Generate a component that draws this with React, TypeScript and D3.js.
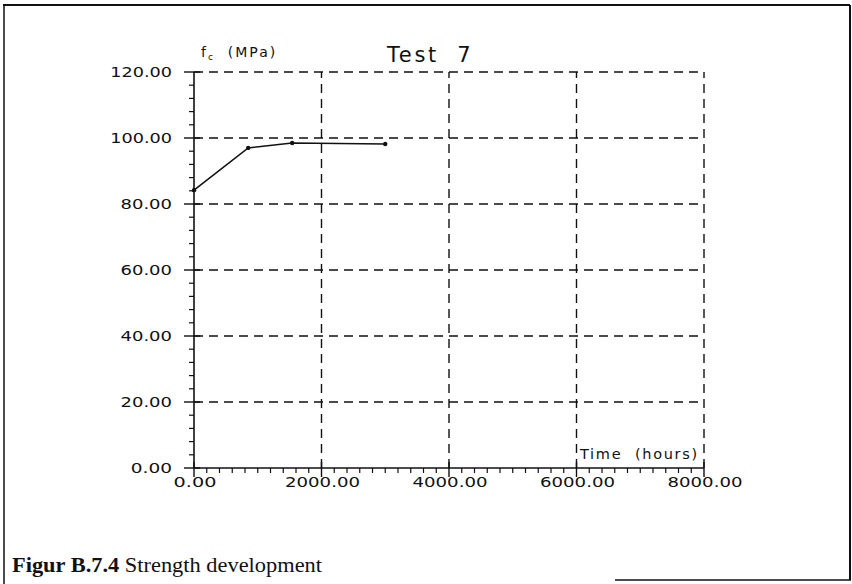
import React, { useEffect, useRef } from 'react';
import * as d3 from 'd3';

const hours = [0, 850, 1540, 3000];
const strength = [84.2, 97.0, 98.5, 98.2];
const xTicks = [0, 2000, 4000, 6000, 8000];
const yTicks = [0, 20, 40, 60, 80, 100, 120];

const App = () => {
    const svgRef = useRef<SVGSVGElement>(null);

    useEffect(() => {
        if (!svgRef.current) return;
        const width = 852;
        const height = 584;
        const svg = d3.select(svgRef.current);
        svg.selectAll("*").remove();

        const font = "'DejaVu Sans', 'Liberation Sans', sans-serif";

        const x = d3.scaleLinear().domain([0, 8000]).range([194, 704]);
        const y = d3.scaleLinear().domain([0, 120]).range([468, 72]);

        // frame around the figure
        const frame = svg.append("g").attr("stroke", "#111").attr("fill", "none");
        frame.append("line").attr("x1", 3).attr("y1", 5).attr("x2", 850).attr("y2", 5).attr("stroke-width", 2);
        frame.append("line").attr("x1", 4).attr("y1", 5).attr("x2", 4).attr("y2", 584).attr("stroke-width", 1.5);
        frame.append("line").attr("x1", 850).attr("y1", 5).attr("x2", 850).attr("y2", 580).attr("stroke-width", 2);
        frame.append("line").attr("x1", 615).attr("y1", 580).attr("x2", 851).attr("y2", 580).attr("stroke-width", 1.5);

        const g = svg.append("g");

        // dashed grid
        g.append("g")
            .selectAll("line")
            .data(yTicks.filter(d => d > 0))
            .join("line")
            .attr("x1", x(0))
            .attr("x2", x(8000))
            .attr("y1", d => y(d))
            .attr("y2", d => y(d))
            .attr("stroke", "#111")
            .attr("stroke-width", 1.4)
            .attr("stroke-dasharray", "9,6");

        g.append("g")
            .selectAll("line")
            .data(xTicks.filter(d => d > 0))
            .join("line")
            .attr("x1", d => x(d))
            .attr("x2", d => x(d))
            .attr("y1", y(0))
            .attr("y2", y(120))
            .attr("stroke", "#111")
            .attr("stroke-width", 1.4)
            .attr("stroke-dasharray", "9,6");

        // y axis with minor ticks
        const yAxis = g.append("g").attr("transform", `translate(${x(0)},0)`);
        yAxis.append("line").attr("y1", y(0)).attr("y2", y(120)).attr("stroke", "#111").attr("stroke-width", 1.6);
        yAxis.selectAll("line.minor")
            .data(d3.range(0, 121, 4).filter(v => v % 20 !== 0))
            .join("line")
            .attr("class", "minor")
            .attr("x1", -5).attr("x2", 0)
            .attr("y1", d => y(d)).attr("y2", d => y(d))
            .attr("stroke", "#111").attr("stroke-width", 1.2);
        yAxis.selectAll("line.major")
            .data(yTicks)
            .join("line")
            .attr("class", "major")
            .attr("x1", -10).attr("x2", 6)
            .attr("y1", d => y(d)).attr("y2", d => y(d))
            .attr("stroke", "#111").attr("stroke-width", 1.4);
        // plotter-style wide labels: stretch each one to its width
        const yCharW = 10.3;
        yAxis.selectAll("text")
            .data(yTicks)
            .join("text")
            .attr("x", d => -22 - d.toFixed(2).length * yCharW)
            .attr("y", d => y(d))
            .attr("dy", "0.35em")
            .attr("font-family", font)
            .attr("font-size", 14.5)
            .attr("textLength", d => d.toFixed(2).length * yCharW)
            .attr("lengthAdjust", "spacingAndGlyphs")
            .attr("fill", "#111")
            .text(d => d.toFixed(2));

        // x axis with minor ticks
        const xAxis = g.append("g").attr("transform", `translate(0,${y(0)})`);
        xAxis.append("line").attr("x1", x(0)).attr("x2", x(8000)).attr("stroke", "#111").attr("stroke-width", 1.6);
        xAxis.selectAll("line.minor")
            .data(d3.range(0, 8001, 200).filter(v => v % 2000 !== 0))
            .join("line")
            .attr("class", "minor")
            .attr("x1", d => x(d)).attr("x2", d => x(d))
            .attr("y1", 0).attr("y2", 5)
            .attr("stroke", "#111").attr("stroke-width", 1.2);
        xAxis.selectAll("line.major")
            .data(xTicks)
            .join("line")
            .attr("class", "major")
            .attr("x1", d => x(d)).attr("x2", d => x(d))
            .attr("y1", -6).attr("y2", 9)
            .attr("stroke", "#111").attr("stroke-width", 1.4);
        const xCharW = 10.7;
        xAxis.selectAll("text")
            .data(xTicks)
            .join("text")
            .attr("x", d => x(d) + 1 - d.toFixed(2).length * xCharW / 2)
            .attr("y", 19)
            .attr("font-family", font)
            .attr("font-size", 14.5)
            .attr("textLength", d => d.toFixed(2).length * xCharW)
            .attr("lengthAdjust", "spacingAndGlyphs")
            .attr("fill", "#111")
            .text(d => d.toFixed(2));

        // data line
        const line = d3.line<number>()
            .x((d, i) => x(hours[i]))
            .y(d => y(d));

        g.append("path")
            .datum(strength)
            .attr("d", line)
            .attr("fill", "none")
            .attr("stroke", "#111")
            .attr("stroke-width", 1.6);

        g.selectAll("circle")
            .data(strength)
            .join("circle")
            .attr("cx", (d, i) => x(hours[i]))
            .attr("cy", d => y(d))
            .attr("r", 2.2)
            .attr("fill", "#111");

        // labels
        const yLabel = svg.append("text")
            .attr("x", 201)
            .attr("y", 57)
            .attr("font-family", font)
            .attr("font-size", 14)
            .attr("letter-spacing", 2)
            .attr("fill", "#111")
            .style("white-space", "pre");
        yLabel.append("tspan").text("f");
        yLabel.append("tspan").attr("font-size", 9).attr("dy", 3).text("c");
        yLabel.append("tspan").attr("dy", -3).text("  (MPa)");

        svg.append("text")
            .attr("x", 387)
            .attr("y", 62)
            .attr("font-family", font)
            .attr("font-size", 21)
            .attr("letter-spacing", 2.6)
            .attr("fill", "#111")
            .style("white-space", "pre")
            .text("Test  7");

        svg.append("text")
            .attr("x", 580)
            .attr("y", 459)
            .attr("font-family", font)
            .attr("font-size", 14.5)
            .attr("letter-spacing", 1.7)
            .attr("fill", "#111")
            .style("white-space", "pre")
            .text("Time  (hours)");

        const caption = svg.append("text")
            .attr("x", 12)
            .attr("y", 572)
            .attr("font-family", "'Liberation Serif', 'Times New Roman', serif")
            .attr("font-size", 22)
            .attr("textLength", 310)
            .attr("lengthAdjust", "spacingAndGlyphs")
            .attr("fill", "#111");
        caption.append("tspan").attr("font-weight", "bold").text("Figur B.7.4");
        caption.append("tspan").text(" Strength development");

        svg.attr("width", width).attr("height", height);
    }, []);

    return (
        <svg
            ref={svgRef}
            width={852}
            height={584}
            style={{ position: 'absolute', left: 0, top: 0, background: '#fff', display: 'block' }}
        />
    );
};

export default App;
